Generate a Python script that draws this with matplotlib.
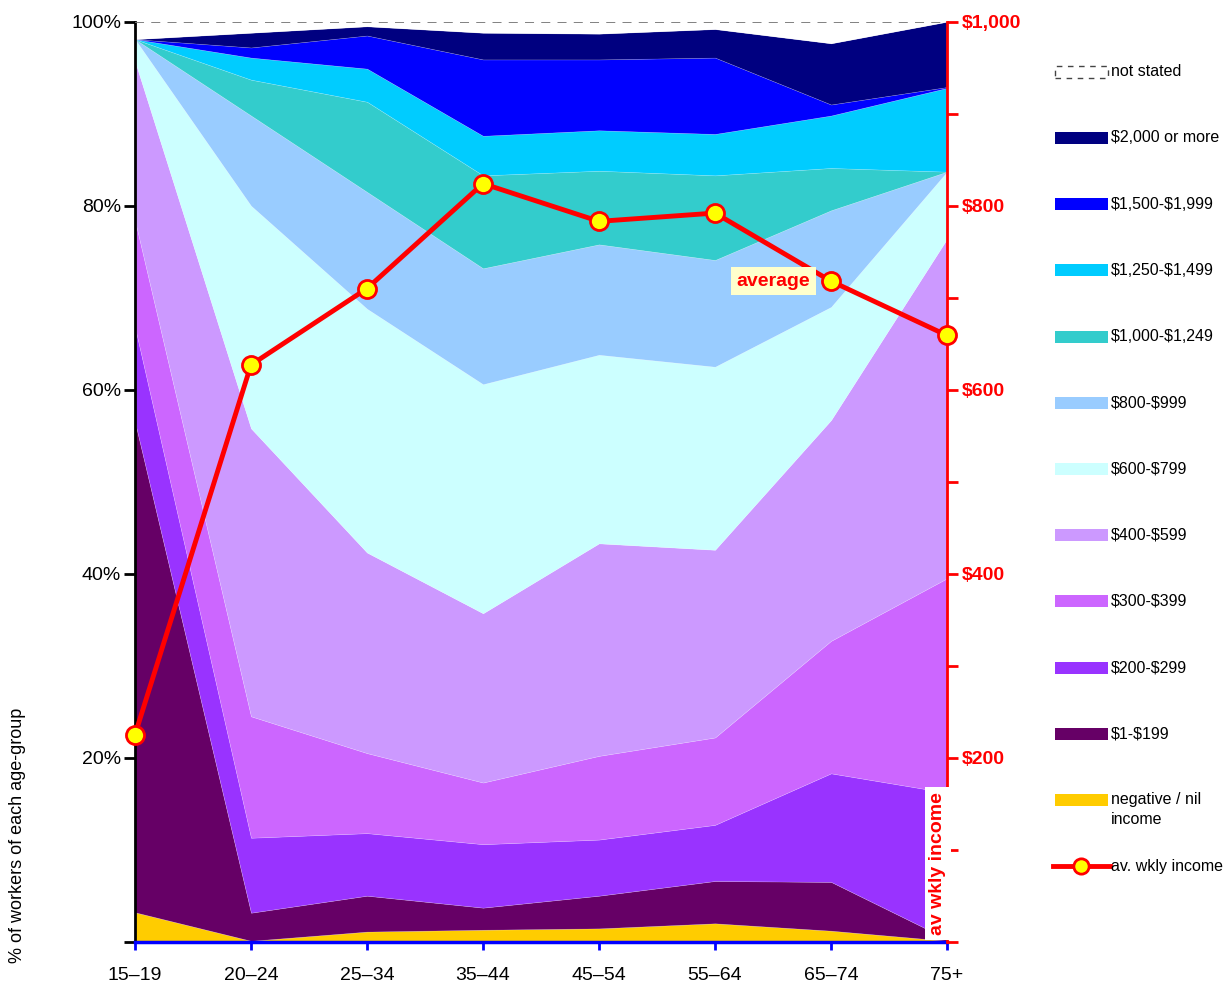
import numpy as np
import matplotlib
matplotlib.use("Agg")
import matplotlib.pyplot as plt
from matplotlib.patches import Rectangle
from matplotlib.lines import Line2D

plt.rcParams['font.family'] = ['Liberation Sans Narrow', 'Liberation Sans', 'DejaVu Sans']

age_groups = ["15–19", "20–24", "25–34", "35–44", "45–54", "55–64", "65–74", "75+"]

# share of workers (%) in each weekly income band, bottom band first
nil_income = [3.2, 0.1, 1.1, 1.3, 1.45, 2.0, 1.2, 0.1]
inc_1_199 = [53.3, 3.05, 3.9, 2.4, 3.55, 4.6, 5.3, 0.2]
inc_200_299 = [10.3, 8.15, 6.8, 6.9, 6.1, 6.1, 11.8, 15.9]
inc_300_399 = [11.6, 13.2, 8.7, 6.7, 9.1, 9.5, 14.4, 23.3]
inc_400_599 = [17.3, 31.3, 21.8, 18.4, 23.1, 20.4, 24.0, 36.9]
inc_600_799 = [2.4, 24.2, 26.5, 24.9, 20.5, 19.9, 12.3, 7.3]
inc_800_999 = [0.0, 9.8, 12.7, 12.6, 12.0, 11.6, 10.5, 0.0]
inc_1000_1249 = [0.0, 3.9, 9.8, 10.1, 8.0, 9.2, 4.6, 0.0]
inc_1250_1499 = [0.0, 2.4, 3.6, 4.3, 4.4, 4.5, 5.7, 9.1]
inc_1500_1999 = [0.0, 1.1, 3.6, 8.3, 7.7, 8.3, 1.2, 0.1]
inc_2000_plus = [0.0, 1.6, 1.0, 2.9, 2.8, 3.1, 6.65, 7.1]
not_stated = [1.9, 1.2, 0.5, 1.2, 1.3, 0.8, 2.35, 0.0]

# average weekly income ($) per age group
avg_income = [225, 627, 710, 824, 783, 792, 718, 659]

bands = [nil_income, inc_1_199, inc_200_299, inc_300_399, inc_400_599, inc_600_799,
         inc_800_999, inc_1000_1249, inc_1250_1499, inc_1500_1999, inc_2000_plus]
band_labels = ["negative / nil\nincome", "$1-$199", "$200-$299", "$300-$399", "$400-$599",
               "$600-$799", "$800-$999", "$1,000-$1,249", "$1,250-$1,499",
               "$1,500-$1,999", "$2,000 or more"]
band_colors = ["#FFCC00", "#660066", "#9933FF", "#CC66FF", "#CC99FF", "#CCFFFF",
               "#99CCFF", "#33CCCC", "#00CCFF", "#0000FF", "#000080"]

W, H = 1226, 983
fig = plt.figure(figsize=(W / 100, H / 100), dpi=100)
ax = fig.add_axes([135 / W, 1 - 941.7 / H, (947 - 135) / W, (941.7 - 21.7) / H])

x = np.arange(len(age_groups))
ax.stackplot(x, *bands, not_stated, colors=band_colors + ["white"],
             linewidth=0.4, edgecolor="#ffffff40")
ax.axhline(100, color="#777777", lw=1.3, ls=(0, (5, 4)), zorder=3)

ax.set_xlim(0, 7)
ax.set_ylim(0, 100)
ax.set_xticks(x)
ax.set_xticklabels(age_groups, fontsize=14)
ax.set_yticks([0, 20, 40, 60, 80, 100])
ax.set_yticklabels(["", "20%", "40%", "60%", "80%", "100%"], fontsize=14)
ax.tick_params(axis="x", colors="#0000FF", length=6, width=2, pad=12, labelcolor="black")
ax.tick_params(axis="y", length=8, width=2, pad=2)
for side in ["top", "right"]:
    ax.spines[side].set_visible(False)
ax.spines["left"].set_linewidth(2)
ax.spines["bottom"].set_linewidth(2.5)
ax.spines["bottom"].set_color("#0000FF")

# average income on a dollar scale
ax2 = ax.twinx()
ax2.set_ylim(0, 1000)
ax2.set_yticks(np.arange(0, 1001, 100))
ax2.set_yticklabels(["" if v % 200 or v == 0 else f"${v:,}" for v in range(0, 1001, 100)],
                    fontsize=14, fontweight="bold", color="#FF0000")
ax2.tick_params(axis="y", colors="#FF0000", length=8, width=2, pad=3)
for side in ["top", "left", "bottom"]:
    ax2.spines[side].set_visible(False)
ax2.spines["right"].set_color("#FF0000")
ax2.spines["right"].set_linewidth(2)
ax2.plot(x, avg_income, color="#FF0000", lw=3.5, marker="o", ms=13,
         markerfacecolor="#FFFF00", markeredgecolor="#FF0000", markeredgewidth=2,
         clip_on=False, zorder=5)

ax2.text(5.82, 718, "average", ha="right", va="center", fontsize=14, fontweight="bold",
         color="#FF0000", zorder=6,
         bbox=dict(boxstyle="square,pad=0.3", fc="#FFFFCC", ec="none"))
ax2.text(6.995, 85, "av wkly income", rotation=90, ha="right", va="center", fontsize=14,
         fontweight="bold", color="#FF0000", zorder=6,
         bbox=dict(boxstyle="square,pad=0.25", fc="white", ec="none"))

fig.text(18 / W, 1 - 835 / H, "% of workers of each age-group", rotation=90,
         ha="center", va="center", fontsize=13)

# legend column
lx0, lx1, tx = 1055, 1108, 1111
fs = 11.5
fy = lambda py: 1 - py / H
fig.patches.append(Rectangle((lx0 / W, fy(78)), (lx1 - lx0) / W, 12 / H, transform=fig.transFigure,
                             fc="white", ec="#444444", lw=1, ls=(0, (4, 4))))
fig.text(tx / W, fy(72), "not stated", fontsize=fs, va="center")
rows = list(zip(band_labels, band_colors))[::-1]
for i, (lab, col) in enumerate(rows):
    py = 138 + i * 66.2
    fig.patches.append(Rectangle((lx0 / W, fy(py + 6)), (lx1 - lx0) / W, 12 / H,
                                 transform=fig.transFigure, fc=col, ec="none"))
    if "\n" in lab:
        fig.text(tx / W, fy(py - 8), lab, fontsize=fs, va="top", linespacing=1.4,
                 parse_math=False)
    else:
        fig.text(tx / W, fy(py), lab, fontsize=fs, va="center", parse_math=False)
fig.lines.append(Line2D([1053 / W, 1110 / W], [fy(866), fy(866)], transform=fig.transFigure,
                        color="#FF0000", lw=3.5))
fig.lines.append(Line2D([1081 / W], [fy(866)], transform=fig.transFigure, ls="none",
                        marker="o", ms=11, markerfacecolor="#FFFF00",
                        markeredgecolor="#FF0000", markeredgewidth=2))
fig.text(tx / W, fy(866), "av. wkly income", fontsize=fs, va="center")

fig.savefig("out.png", dpi=100)
